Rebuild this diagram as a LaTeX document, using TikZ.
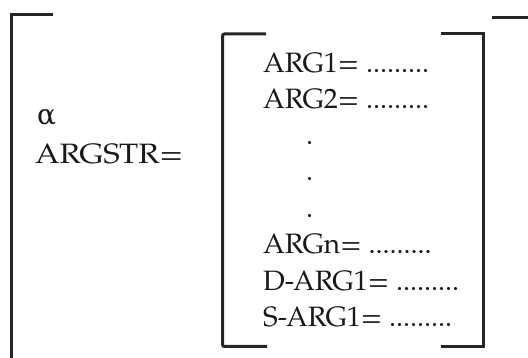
\documentclass[tikz,border=0pt]{standalone}
\usepackage{fontspec}
\setmainfont{TeX Gyre Pagella}
\newfontfamily\greekfont{DejaVu Serif}
\tikzset{
  brk/.style={line width=3pt, line join=miter, color=black!85},
  txt/.style={anchor=base west, inner sep=0pt, font=\fontsize{28}{34}\selectfont, text=black!90}
}
\begin{document}
\begin{tikzpicture}[x=1pt,y=-1pt]
\useasboundingbox (0,0) rectangle (528,358);
% outer bracket
\draw[brk] (53,15) -- (11,15) -- (11,362);
\draw[brk] (492,18) -- (532,18);
% inner brackets
\draw[brk, rounded corners=2pt] (266,34) -- (222.5,34) -- (222.5,346.5) -- (267,346.5);
\draw[brk] (441,34) -- (483.3,34) -- (483.3,347) -- (441,347);
% left texts
\node[txt] (alpha) at (37,125) {\greekfont α};
\node[txt, xscale=1.12] (argstr) at (35,164) {ARGSTR=};
% inner texts
\node[txt] (a1) at (263,73) {ARG1= .........};
\node[txt] (a2) at (263,109) {ARG2= .........};
\node[txt] (d1) at (306,145) {.};
\node[txt] (d2) at (306,181) {.};
\node[txt] (d3) at (306,217.5) {.};
\node[txt] (an) at (263,254) {ARGn= .........};
\node[txt] (da) at (263,290.5) {D-ARG1= .........};
\node[txt] (sa) at (263,326.5) {S-ARG1= .........};
\end{tikzpicture}
\end{document}
